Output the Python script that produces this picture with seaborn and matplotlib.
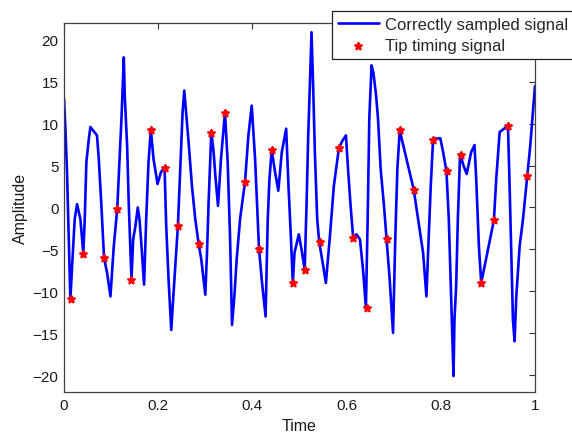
import matplotlib
matplotlib.use('Agg')
import matplotlib.pyplot as plt
import seaborn as sns
import pandas as pd

# correctly sampled signal (vertices)
signal_t = [0.000, 0.003, 0.0064, 0.0135, 0.017, 0.0227, 0.0277, 0.0348, 0.041, 0.044,
            0.0475, 0.0525, 0.056, 0.070, 0.0738, 0.0794, 0.085, 0.0915, 0.0986, 0.1057,
            0.113, 0.1177, 0.122, 0.127, 0.129, 0.134, 0.1376, 0.1433, 0.1468, 0.1517,
            0.1566, 0.1603, 0.1645, 0.170, 0.1745, 0.1794, 0.1844, 0.190, 0.1986, 0.2057,
            0.2135, 0.217, 0.222, 0.2277, 0.2326, 0.2418, 0.2468, 0.2518, 0.2553, 0.2596,
            0.2645, 0.2716, 0.2787, 0.2858, 0.2915, 0.300, 0.3036, 0.307, 0.3128, 0.3177,
            0.3213, 0.327, 0.3333, 0.3418, 0.3475, 0.3525, 0.3567, 0.3617, 0.3666, 0.3738,
            0.3844, 0.3915, 0.3986, 0.4057, 0.4113, 0.414, 0.4198, 0.428, 0.4326, 0.4362,
            0.441, 0.4482, 0.455, 0.4624, 0.4717, 0.4766, 0.4816, 0.4858, 0.4894, 0.4985,
            0.5043, 0.511, 0.5149, 0.5185, 0.522, 0.5255, 0.529, 0.5326, 0.5376, 0.5418,
            0.5504, 0.556, 0.5646, 0.573, 0.5837, 0.5915, 0.5986, 0.6035, 0.6085, 0.614,
            0.621, 0.6284, 0.6355, 0.641, 0.6447, 0.6482, 0.653, 0.657, 0.6624, 0.6667,
            0.6723, 0.6794, 0.685, 0.6915, 0.6986, 0.7035, 0.7078, 0.7128, 0.727, 0.7426,
            0.7518, 0.7624, 0.7695, 0.773, 0.7787, 0.7837, 0.799, 0.805, 0.812, 0.817,
            0.8213, 0.827, 0.829, 0.8326, 0.8362, 0.841, 0.8482, 0.855, 0.8645, 0.8716,
            0.8752, 0.8809, 0.8858, 0.9128, 0.9177, 0.925, 0.9426, 0.9461, 0.9496, 0.9532,
            0.9567, 0.9603, 0.9674, 0.9745, 0.9837, 0.990, 1.000]
signal_amp = [13.0, 9.4, 4.2, -11.0, -7.2, -1.4, 0.4, -1.4, -5.5, -1.4,
              5.4, 8.1, 9.6, 8.6, 5.8, 0.2, -6.0, -7.8, -10.6, -4.6,
              -0.2, 5.4, 10.6, 17.9, 13.3, 7.4, 0.2, -8.6, -3.8, -2.2,
              0.0, -1.4, -4.6, -9.2, -1.4, 5.4, 9.3, 5.8, 2.8, 4.2,
              4.8, -2.2, -8.6, -14.6, -10.2, -2.2, 4.6, 11.4, 13.95, 11.0,
              7.8, 2.6, -1.4, -4.3, -6.2, -10.4, -5.4, 0.6, 9.0, 6.6,
              3.8, 0.2, 5.8, 11.35, 5.4, -3.4, -14.0, -10.6, -6.2, -1.4,
              3.1, 8.6, 12.15, 5.8, -1.4, -4.9, -8.6, -13.0, -1.4, 3.4,
              6.85, 4.2, 2.0, 6.6, 9.4, 2.6, -3.4, -9.0, -5.4, -3.2,
              -5.0, -7.4, 0.2, 8.6, 14.5, 20.9, 14.5, 6.6, -1.4, -4.1,
              -7.0, -9.0, -3.4, 2.6, 7.1, 8.0, 8.6, 4.2, 0.2, -3.6,
              -3.2, -3.8, -7.8, -12.0, -1.4, 10.6, 16.95, 16.0, 13.5, 10.6,
              4.6, 0.2, -3.8, -8.6, -14.95, -3.4, 4.6, 9.2, 5.8, 2.1,
              -1.4, -5.4, -10.6, -5.4, 2.6, 8.2, 8.25, 6.6, 4.3, -1.4,
              -9.4, -20.1, -13.4, -9.4, -1.4, 6.4, 5.0, 4.0, 6.6, 7.45,
              3.4, -4.6, -9.0, -1.5, 3.4, 9.0, 9.75, 2.6, -5.4, -13.4,
              -15.95, -10.6, -4.6, -1.4, 3.8, 7.4, 14.5]

# tip timing samples (red dots)
tip_t = [0.014, 0.041, 0.085, 0.113, 0.143, 0.184, 0.214, 0.241, 0.286, 0.313,
         0.342, 0.384, 0.413, 0.441, 0.486, 0.512, 0.543, 0.584, 0.614, 0.643,
         0.685, 0.713, 0.743, 0.784, 0.813, 0.842, 0.885, 0.913, 0.943, 0.984]
tip_amp = [-10.9, -5.5, -6.0, -0.2, -8.6, 9.2, 4.7, -2.2, -4.3, 8.9,
           11.3, 3.1, -4.9, 6.85, -9.05, -7.5, -4.1, 7.1, -3.6, -12.0,
           -3.8, 9.2, 2.1, 8.1, 4.3, 6.3, -9.05, -1.5, 9.7, 3.75]

x_ticks = [0, 0.2, 0.4, 0.6, 0.8, 1]
y_ticks = [-20, -15, -10, -5, 0, 5, 10, 15, 20]

sns.set_style('white')
plt.rcParams['font.family'] = ['Liberation Sans', 'DejaVu Sans']
plt.rcParams['font.size'] = 11

sig = pd.DataFrame({'t': signal_t, 'amp': signal_amp})
tip = pd.DataFrame({'t': tip_t, 'amp': tip_amp})

fig = plt.figure(figsize=(5.72, 4.35), dpi=100)
ax = fig.add_axes([0.1119, 0.0966, 0.8234, 0.8482])

sns.lineplot(data=sig, x='t', y='amp', ax=ax, sort=False, estimator=None,
             color='#0000ff', linewidth=1.9, label='Correctly sampled signal')
sns.scatterplot(data=tip, x='t', y='amp', ax=ax, color='#ff0000', marker='*',
                s=26, linewidth=1.6, edgecolor='#ff0000', zorder=3,
                label='Tip timing signal')

ax.set_xlim(0, 1)
ax.set_ylim(-22, 22)
ax.set_xticks(x_ticks)
ax.set_xticklabels(['0', '0.2', '0.4', '0.6', '0.8', '1'])
ax.set_yticks(y_ticks)
ax.set_xlabel('Time', color='#1a1a1a', labelpad=5, fontsize=11.5)
ax.set_ylabel('Amplitude', color='#1a1a1a', labelpad=3, fontsize=11.5)
ax.tick_params(direction='in', length=4, width=0.8, colors='#333333',
               labelcolor='#1a1a1a', top=True, right=True, pad=4, labelsize=11)
for sp in ax.spines.values():
    sp.set_color('#404040')
    sp.set_linewidth(0.9)

leg = ax.legend(loc='upper left', bbox_to_anchor=(0.580, 0.973),
                bbox_transform=fig.transFigure, frameon=True, fancybox=False,
                framealpha=1, edgecolor='#202020', borderaxespad=0,
                handlelength=2.5, handletextpad=0.35, borderpad=0.35,
                labelspacing=0.4, fontsize=12)
leg.get_frame().set_linewidth(0.9)

plt.savefig('out.png', dpi=100)
